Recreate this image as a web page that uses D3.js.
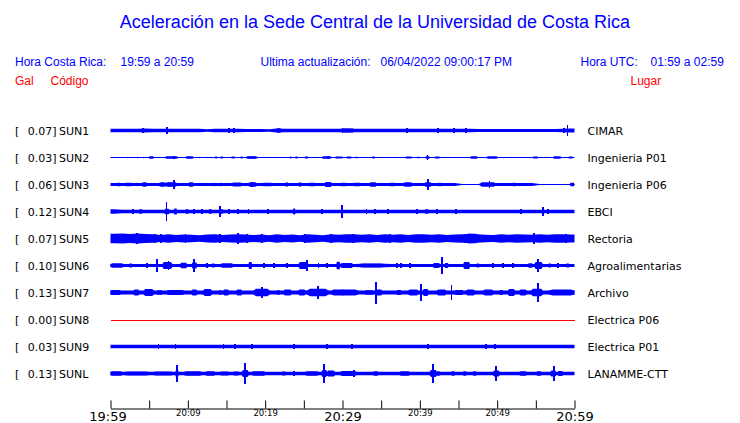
<!DOCTYPE html>
<html>
<head>
<meta charset="utf-8">
<script src="https://cdn.jsdelivr.net/npm/d3@7"></script>
<style>
html,body{margin:0;padding:0;background:#fff;}
svg{display:block;}
</style>
</head>
<body>
<svg id="chart" width="740" height="423"></svg>
<script>
// ---------------- DATA ----------------
const codes  = ["SUN1","SUN2","SUN3","SUN4","SUN5","SUN6","SUN7","SUN8","SUN9","SUNL"];
const places = ["CIMAR","Ingenieria P01","Ingenieria P06","EBCI","Rectoria","Agroalimentarias","Archivo","Electrica P06","Electrica P01","LANAMME-CTT"];
const peakGal = [0.07,0.03,0.06,0.12,0.07,0.10,0.13,0.00,0.03,0.13];
const tickLabels = ["19:59","20:09","20:19","20:29","20:39","20:49","20:59"];
const bigTickLabels = ["19:59","20:29","20:59"];

// per-minute background envelope (gal), 60 minutes
const sun1Env = [.021,.021,.021,.021,.023,.021,.021,.022,.021,.021,
                 .021,.020,.015,.021,.021,.022,.021,.017,.019,.017,
                 .015,.023,.021,.021,.021,.021,.021,.021,.021,.022,
                 .023,.022,.021,.021,.020,.020,.020,.020,.021,.020,
                 .020,.020,.021,.020,.021,.020,.021,.017,.019,.019,
                 .018,.017,.019,.019,.019,.018,.019,.019,.021,.023];
const sun2Env = [.005,.005,.005,.005,.005,.005,.005,.005,.005,.005,
                 .005,.005,.005,.005,.005,.005,.005,.005,.005,.005,
                 .005,.005,.005,.005,.005,.005,.005,.005,.005,.005,
                 .005,.005,.005,.005,.005,.005,.005,.005,.005,.005,
                 .005,.005,.005,.005,.005,.005,.005,.005,.005,.005,
                 .005,.005,.005,.005,.005,.005,.005,.005,.005,.005];
const sun3Env = [.017,.017,.017,.017,.017,.017,.017,.017,.017,.017,
                 .017,.017,.017,.017,.017,.017,.017,.017,.017,.017,
                 .017,.017,.017,.017,.017,.017,.017,.017,.017,.017,
                 .017,.017,.017,.017,.017,.017,.017,.017,.017,.017,
                 .017,.017,.017,.017,.017,.004,.004,.004,.017,.017,
                 .017,.017,.017,.017,.017,.004,.004,.004,.004,.004];
const sun4Env = [.028,.022,.022,.022,.022,.022,.022,.022,.022,.022,
                 .022,.022,.022,.022,.022,.022,.022,.022,.022,.022,
                 .022,.022,.022,.022,.022,.022,.022,.022,.022,.022,
                 .022,.022,.022,.022,.022,.022,.022,.022,.022,.022,
                 .022,.022,.022,.022,.022,.022,.022,.022,.022,.022,
                 .022,.022,.022,.022,.022,.022,.022,.022,.022,.022];
const sun5Env = [.056,.060,.052,.059,.054,.050,.042,.049,.041,.047,
                 .043,.039,.047,.049,.041,.047,.051,.048,.041,.047,
                 .039,.049,.041,.047,.039,.049,.043,.039,.051,.045,
                 .049,.051,.043,.049,.041,.051,.043,.049,.041,.049,
                 .051,.043,.049,.041,.047,.049,.055,.050,.043,.041,
                 .049,.043,.051,.048,.043,.051,.043,.049,.051,.048];
const sun6Env = [.019,.019,.019,.019,.019,.019,.019,.019,.019,.019,
                 .019,.019,.019,.019,.019,.019,.019,.019,.019,.019,
                 .019,.019,.019,.019,.019,.019,.019,.019,.019,.019,
                 .019,.019,.021,.021,.021,.021,.019,.019,.019,.019,
                 .019,.019,.019,.019,.019,.019,.019,.019,.019,.019,
                 .019,.019,.019,.019,.019,.019,.019,.019,.019,.019];
const sun7Env = [.023,.023,.023,.023,.023,.023,.023,.023,.023,.023,
                 .023,.023,.023,.023,.023,.023,.023,.023,.023,.023,
                 .023,.023,.023,.023,.023,.023,.023,.023,.023,.023,
                 .023,.023,.023,.023,.023,.023,.023,.023,.023,.023,
                 .023,.023,.023,.023,.023,.023,.023,.023,.023,.023,
                 .023,.023,.023,.023,.023,.023,.023,.023,.023,.023];
const sun8Env = [0,0,0,0,0,0,0,0,0,0, 0,0,0,0,0,0,0,0,0,0,
                 0,0,0,0,0,0,0,0,0,0, 0,0,0,0,0,0,0,0,0,0,
                 0,0,0,0,0,0,0,0,0,0, 0,0,0,0,0,0,0,0,0,0];
const sun9Env = [.021,.021,.021,.021,.021,.021,.021,.021,.021,.021,
                 .021,.021,.021,.021,.021,.021,.021,.021,.021,.021,
                 .021,.021,.021,.021,.021,.021,.021,.021,.021,.021,
                 .021,.021,.021,.021,.021,.021,.021,.021,.021,.021,
                 .021,.021,.021,.021,.021,.021,.021,.021,.021,.021,
                 .021,.021,.021,.021,.021,.021,.021,.021,.021,.021];
const sunLEnv = [.021,.021,.021,.021,.021,.021,.021,.021,.021,.021,
                 .021,.021,.021,.021,.021,.021,.021,.021,.021,.021,
                 .021,.021,.021,.021,.021,.021,.021,.021,.021,.021,
                 .021,.021,.021,.021,.021,.021,.021,.021,.021,.021,
                 .021,.021,.021,.021,.021,.021,.021,.021,.021,.021,
                 .021,.021,.021,.021,.021,.021,.021,.021,.021,.021];

// bursts and spikes: [start minute, end minute, amplitude gal]
const sun1Peaks = [[4.2,4.2,.026],[7.3,7.3,.040],[15.3,15.3,.030],[16.0,16.0,.026],[21.5,22.0,.026],
  [30.0,30.0,.028],[30.0,31.4,.024],[38.3,38.3,.024],[42.4,42.4,.030],[44.4,44.4,.035],[46.0,46.0,.026],
  [58.6,58.6,.026],[59.1,59.1,.070]];
const sun2Peaks = [[0.56,0.6,.010],[2.15,2.2,.012],[2.7,2.75,.010],[3.44,3.5,.012],[4.2,4.25,.012],[4.5,4.55,.010],
  [4.95,5.6,.014],[6.2,6.25,.012],[7.0,8.8,.016],[8.2,8.2,.020],[9.7,10.75,.014],[11.5,11.55,.012],[12.4,12.45,.012],
  [13.0,13.05,.010],[13.5,13.8,.012],[14.2,14.6,.012],[15.6,16.1,.012],[16.8,17.1,.012],[17.4,19.1,.013],[17.6,18.9,.016],
  [19.6,19.65,.010],[20.2,20.25,.010],[21.3,21.35,.010],[22.6,22.65,.010],[23.2,23.4,.012],[23.9,24.2,.012],
  [25.1,25.6,.012],[26.5,26.55,.010],[27.3,28.6,.016],[28.1,28.1,.020],[29.0,30.1,.012],[30.5,31.2,.012],
  [31.6,32.0,.010],[33.8,34.2,.012],[35.9,35.95,.010],[37.0,37.05,.010],[38.1,39.0,.012],[39.6,40.0,.010],
  [40.7,41.3,.016],[41.0,41.0,.024],[41.9,42.6,.012],[43.7,43.75,.010],[46.5,47.5,.014],[48.6,50.1,.016],
  [50.75,50.8,.010],[51.8,51.85,.010],[53.1,53.15,.010],[54.6,55.3,.012],[55.7,55.75,.010],[57.2,58.3,.016],
  [59.2,59.8,.012]];
const sun3Peaks = [[0.9,1.3,.022],[1.9,2.8,.022],[3.4,3.45,.024],[4.1,4.7,.026],[6.2,8.0,.023],[6.5,6.9,.027],
  [7.3,8.6,.028],[8.2,8.2,.055],[10.1,10.75,.027],[11.8,11.85,.024],[13.3,13.5,.022],[14.2,14.4,.022],
  [15.7,17.0,.023],[17.85,18.9,.028],[18.3,18.3,.035],[19.6,20.9,.022],[22.6,23.0,.024],[24.3,24.7,.024],
  [25.6,26.5,.022],[27.7,28.6,.030],[28.1,28.1,.035],[29.7,30.5,.022],[31.4,32.3,.022],[33.5,34.4,.026],
  [36.1,36.8,.022],[37.9,39.0,.026],[40.6,41.5,.027],[41.1,41.1,.060],[42.4,42.8,.022],[47.7,49.9,.026],
  [49.0,49.0,.040],[52.0,52.4,.022],[59.4,60.0,.020]];
const sun4Peaks = [[2.9,2.9,.026],[3.7,4.1,.026],[7.0,7.6,.032],[7.23,7.23,.112],[8.2,8.6,.035],[9.7,10.1,.027],
  [10.8,10.8,.026],[11.8,11.8,.026],[12.7,13.1,.028],[14.0,14.6,.028],[14.2,14.2,.070],[15.3,15.3,.026],
  [16.5,16.5,.035],[17.85,17.85,.028],[20.4,20.4,.026],[23.6,23.9,.035],[27.3,27.3,.026],[29.97,29.97,.078],
  [33.1,33.1,.028],[34.2,34.2,.027],[35.9,35.9,.032],[39.6,39.6,.026],[40.7,41.1,.028],[42.2,42.2,.027],
  [44.7,44.7,.026],[53.1,53.1,.026],[55.9,55.9,.055],[56.6,56.6,.027]];
const sun5Peaks = [[3.4,3.4,.060],[5.8,5.8,.055],[6.5,6.5,.055],[9.7,9.7,.055],[14.2,14.2,.055],[16.5,16.5,.062],
  [17.6,17.6,.055],[19.6,19.6,.055],[25.2,25.2,.055],[28.5,28.5,.055],[31.4,31.4,.056],[36.1,36.1,.056],
  [46.2,47.3,.057],[54.8,54.8,.068],[58.9,58.9,.055]];
const sun6Peaks = [[0,1.7,.026],[2.4,2.8,.025],[4.7,4.7,.024],[6.0,6.0,.078],[6.7,8.0,.040],[7.5,7.5,.053],
  [9.0,9.9,.032],[10.5,11.2,.035],[10.75,10.75,.082],[12.5,12.5,.025],[13.1,13.5,.025],[14.2,15.9,.026],
  [17.85,18.3,.040],[19.8,19.8,.025],[21.1,21.1,.025],[22.8,22.8,.025],[24.3,25.6,.040],[25.4,25.4,.060],
  [26.9,26.9,.025],[28.0,28.0,.025],[29.2,29.7,.045],[29.7,31.4,.029],[32.3,35.3,.023],[37.0,37.0,.025],
  [37.6,37.6,.025],[38.7,38.7,.025],[41.7,42.6,.030],[42.9,42.9,.100],[43.2,43.7,.030],[45.6,46.5,.040],
  [47.3,47.7,.025],[49.5,49.5,.025],[50.75,50.75,.025],[52.0,52.0,.025],[54.0,54.6,.028],[54.8,55.9,.040],
  [55.3,55.3,.076],[56.6,57.0,.025],[57.85,57.85,.025],[58.9,59.3,.025]];
const sun7Peaks = [[0,1.3,.030],[3.0,3.7,.035],[4.3,5.6,.040],[6.0,6.7,.028],[7.3,9.5,.030],[10.5,11.2,.035],
  [12.0,13.1,.040],[14.0,14.4,.028],[14.6,15.3,.035],[16.3,17.0,.035],[18.5,20.6,.045],[19.6,19.6,.060],
  [21.5,21.9,.028],[22.4,23.4,.035],[24.3,25.2,.035],[25.4,28.2,.045],[26.8,26.8,.075],[28.6,30.3,.035],
  [29.7,32.0,.035],[32.9,34.0,.028],[34.3,34.3,.130],[34.4,35.1,.035],[37.0,37.6,.030],[38.5,39.8,.035],
  [40.1,40.1,.106],[40.4,41.1,.040],[42.2,43.4,.035],[44.1,44.1,.088],[44.5,45.6,.030],[46.0,47.1,.035],
  [48.2,49.5,.035],[50.3,50.75,.030],[51.4,52.3,.040],[52.9,53.8,.035],[54.4,55.9,.045],[55.3,55.3,.115],
  [56.7,60.0,.035]];
const sun8Peaks = [];
const sun9Peaks = [[6.2,6.2,.026],[8.4,8.4,.030],[14.6,14.6,.026],[16.1,16.1,.026],[18.3,18.3,.026],
  [23.7,23.7,.026],[28.0,28.0,.030],[31.2,31.2,.026],[41.1,41.1,.030],[48.6,48.6,.026],[49.7,49.7,.026]];
const sunLPeaks = [[0,1.5,.027],[1.9,4.9,.025],[5.6,8.0,.024],[8.4,8.8,.040],[8.6,8.6,.100],[9.5,11.8,.027],
  [12.3,13.5,.027],[14.2,15.3,.025],[15.9,16.6,.025],[17.0,17.85,.040],[17.4,17.4,.124],[18.3,20.0,.027],
  [22.2,22.6,.025],[23.7,23.7,.026],[25.2,26.9,.027],[27.3,28.0,.040],[27.6,27.6,.118],[28.0,29.0,.035],
  [29.7,31.8,.030],[31.5,31.5,.047],[34.0,34.6,.027],[37.4,38.7,.027],[41.3,42.2,.040],[41.7,41.7,.108],
  [42.2,42.6,.027],[44.1,44.5,.027],[45.6,46.0,.027],[46.9,47.3,.027],[49.5,50.3,.035],[49.9,49.9,.090],
  [52.9,53.8,.027],[55.1,55.7,.027],[56.9,57.6,.035],[57.3,57.3,.090],[57.85,58.5,.030]];

const envs  = [sun1Env,sun2Env,sun3Env,sun4Env,sun5Env,sun6Env,sun7Env,sun8Env,sun9Env,sunLEnv];
const peaks = [sun1Peaks,sun2Peaks,sun3Peaks,sun4Peaks,sun5Peaks,sun6Peaks,sun7Peaks,sun8Peaks,sun9Peaks,sunLPeaks];

// ---------------- DRAW ----------------
const svg = d3.select("#chart");
const BLUE = "#0000ff", RED = "#ff0000";
const sans = "'Liberation Sans', Arial, sans-serif";
const dv = "'DejaVu Sans', sans-serif";

const t0 = new Date(2022,3,6,19,59), t1 = new Date(2022,3,6,20,59);
const tx = d3.scaleTime().domain([t0,t1]).range([110.5,574.5]);
const x = d3.scaleLinear().domain([0,60]).range([110.5,574.5]);
const yBase = d3.scalePoint().domain(codes).range([130.5,373.5]);
const amp = d3.scaleLinear().domain([0,0.13]).range([0,11]);

// title
svg.append("text").attr("x",375).attr("y",28).attr("text-anchor","middle")
  .style("font-family",sans).style("font-size","18px").attr("fill",BLUE)
  .text("Aceleración en la Sede Central de la Universidad de Costa Rica");

const hdr = (tx_,xx,yy,col,anchor)=>svg.append("text").attr("x",xx).attr("y",yy)
  .attr("text-anchor",anchor||"start").style("font-family",sans).style("font-size","12px")
  .attr("fill",col).text(tx_);
hdr("Hora Costa Rica:",15,65.5,BLUE);
hdr("19:59 a 20:59",120.5,65.5,BLUE);
hdr("Ultima actualización:",260.5,65.5,BLUE);
hdr("06/04/2022 09:00:17 PM",380.5,65.5,BLUE);
hdr("Hora UTC:",580.5,65.5,BLUE);
hdr("01:59 a 02:59",650.5,65.5,BLUE);
hdr("Gal",15,84.5,RED);
hdr("Código",50.5,84.5,RED);
hdr("Lugar",630.5,84.5,RED);

// labels
const lab = svg.append("g").style("font-family",dv).style("font-size","11px").attr("fill","#000");
codes.forEach((c,i)=>{
  const yy = yBase(c)+4;
  lab.append("text").attr("x",15).attr("y",yy).text("[");
  lab.append("text").attr("x",56.5).attr("y",yy).attr("text-anchor","end").text(peakGal[i].toFixed(2)+"]");
  lab.append("text").attr("x",59).attr("y",yy).text(c);
  lab.append("text").attr("x",587.5).attr("y",yy).text(places[i]);
});

// traces
const traces = svg.append("g");
codes.forEach((c,i)=>{
  const y0 = yBase(c);
  const g = traces.append("g");
  const env = envs[i];
  if (peakGal[i] === 0) {
    g.append("path").datum(env).attr("fill","none").attr("stroke",RED).attr("stroke-width",1)
      .attr("shape-rendering","crispEdges")
      .attr("d", d3.line().x((d,k)=>x(k*60/59)).y(d=>Math.round(y0-amp(d))+0.5));
    return;
  }
  const pts = [[0,env[0]]].concat(env.map((v,k)=>[k+0.5,v]), [[60,env[59]]]);
  const hh = v => Math.max(0.55, amp(v));
  g.append("path").datum(pts)
    .attr("d", d3.area().x(d=>x(d[0])).y0(d=>y0+hh(d[1])).y1(d=>y0-hh(d[1])))
    .attr("fill",BLUE);
  const bursts = peaks[i].filter(d=>d[1]>d[0]);
  const spikes = peaks[i].filter(d=>d[1]===d[0]);
  const burstArea = d3.area().x(d=>x(d[0])).y0(d=>y0+d[1]).y1(d=>y0-d[1]);
  g.selectAll("path.bu").data(bursts).join("path").attr("class","bu")
    .attr("d", d=>{
      const w = d[1]-d[0], a = amp(d[2]), b = hh(env[Math.min(59,Math.floor(d[0]))]);
      return burstArea([[d[0],b],[d[0]+w*0.15,a],[d[1]-w*0.15,a],[d[1],b]]);
    })
    .attr("fill",BLUE);
  g.selectAll("rect.pk").data(spikes).join("rect").attr("class","pk")
    .attr("shape-rendering","crispEdges")
    .attr("x",d=>x(d[0])-0.9)
    .attr("width",1.8)
    .attr("y",d=>y0-amp(d[2]))
    .attr("height",d=>2*amp(d[2]))
    .attr("fill",BLUE);
});

// time axis
const tickVals = d3.range(0,61,5).map(m=>new Date(t0.getTime()+m*60000));
const fmt = d3.timeFormat("%H:%M");
const ax = svg.append("g").attr("transform","translate(0,408.5)")
  .call(d3.axisBottom(tx).tickValues(tickVals).tickSizeInner(-8).tickSizeOuter(0)
    .tickFormat(d=>tickLabels.includes(fmt(d))?fmt(d):""));
ax.select(".domain").attr("stroke","#000");
ax.selectAll(".tick line").attr("stroke","#000");
ax.selectAll(".tick text").attr("fill","#000").attr("dy",null)
  .style("font-family",dv)
  .each(function(d,k){
    const big = bigTickLabels.includes(fmt(d));
    d3.select(this).style("font-size",big?"13px":"8.5px").attr("y",big?12.5:7.5)
      .attr("dx", k===0 ? -3 : 0);
  });
</script>
</body>
</html>
